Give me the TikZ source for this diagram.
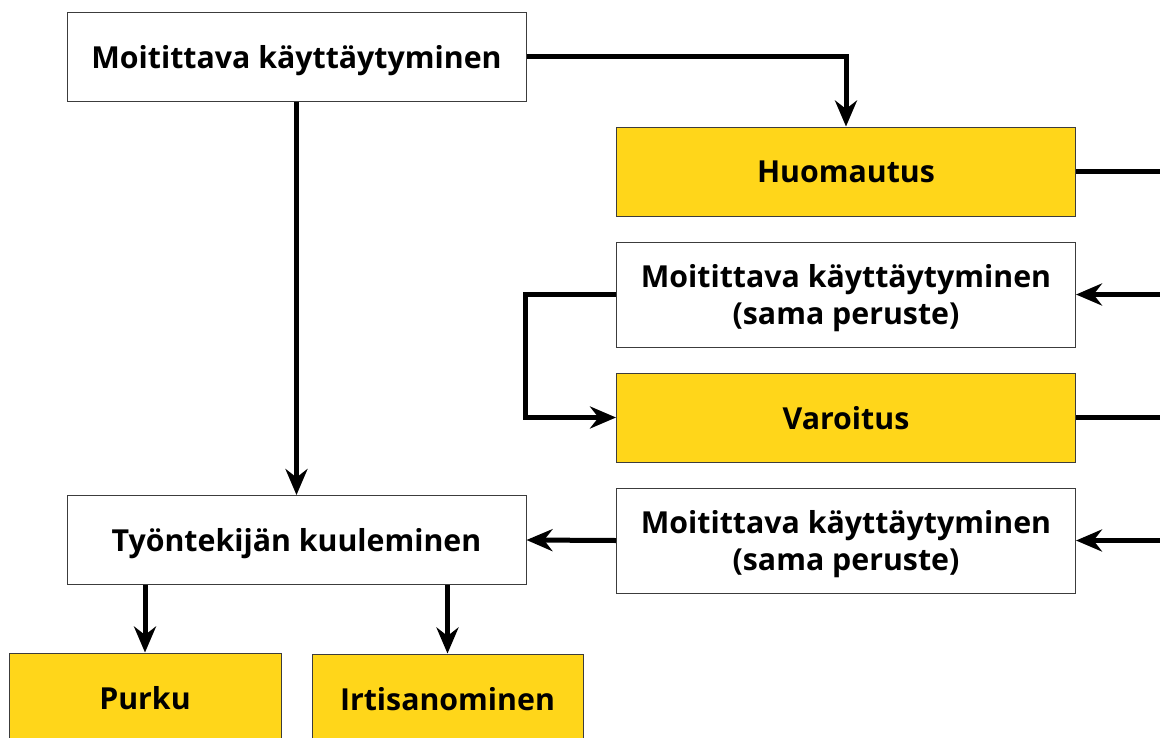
\documentclass[tikz,border=0pt]{standalone}
\usepackage{fontspec}
\setmainfont{Open Sans}
\usetikzlibrary{arrows.meta}
\definecolor{warnyellow}{RGB}{255,214,26}
\definecolor{boxgray}{RGB}{60,60,60}

\tikzset{
  plainbox/.style={draw=boxgray, line width=1pt, fill=white, minimum width=459pt,
    minimum height=89pt, inner sep=0pt, align=center, text depth=0pt,
    font=\fontsize{30.3}{37}\selectfont\bfseries},
  yellowbox/.style={plainbox, fill=warnyellow},
  tallbox/.style={plainbox, minimum height=105pt},
  link/.style={line width=5pt},
  arrowlink/.style={link, -{Stealth[length=26pt,width=22pt]}}
}

\begin{document}
\begin{tikzpicture}[x=1pt,y=-1pt]
	\clip (0,0) rectangle (1160,737);
	
	% Boxes
	\node[plainbox] (moite) at (296.5,56.5) {Moitittava käyttäytyminen};
	\node[yellowbox] (huom) at (846,171.5) {Huomautus};
	\node[tallbox] (moite2) at (846,294.5) {Moitittava käyttäytyminen\\(sama peruste)};
	\node[yellowbox] (varoitus) at (846,417.5) {Varoitus};
	\node[tallbox] (moite3) at (846,540.5) {Moitittava käyttäytyminen\\(sama peruste)};
	\node[plainbox] (kuul) at (296.5,540) {Työntekijän kuuleminen};
	\node[yellowbox, minimum width=272pt] (purku) at (145,697.5) {Purku};
	\node[yellowbox, minimum width=271pt] (irtis) at (447.5,698.5) {Irtisanominen};
	
	% Loose ends at the right edge
	\coordinate (outA) at (1175,171.5);
	\coordinate (inA) at (1175,294.5);
	\coordinate (outB) at (1175,417.5);
	\coordinate (inB) at (1175,540.5);
	
	% Connectors
	\draw[arrowlink] (moite.east) -| (huom.north);
	\draw[arrowlink] (moite.south) -- (kuul.north);
	\draw[link] (huom.east) -- (outA);
	\draw[arrowlink] (inA) -- (moite2.east);
	\draw[arrowlink] (moite2.west) -- ++(-91,0) |- (varoitus.west);
	\draw[link] (varoitus.east) -- (outB);
	\draw[arrowlink] (inB) -- (moite3.east);
	\draw[arrowlink] (moite3.west) -- (kuul.east);
	\draw[arrowlink] (purku.north |- kuul.south) -- (purku.north);
	\draw[arrowlink] (irtis.north |- kuul.south) -- (irtis.north);
\end{tikzpicture}
\end{document}
